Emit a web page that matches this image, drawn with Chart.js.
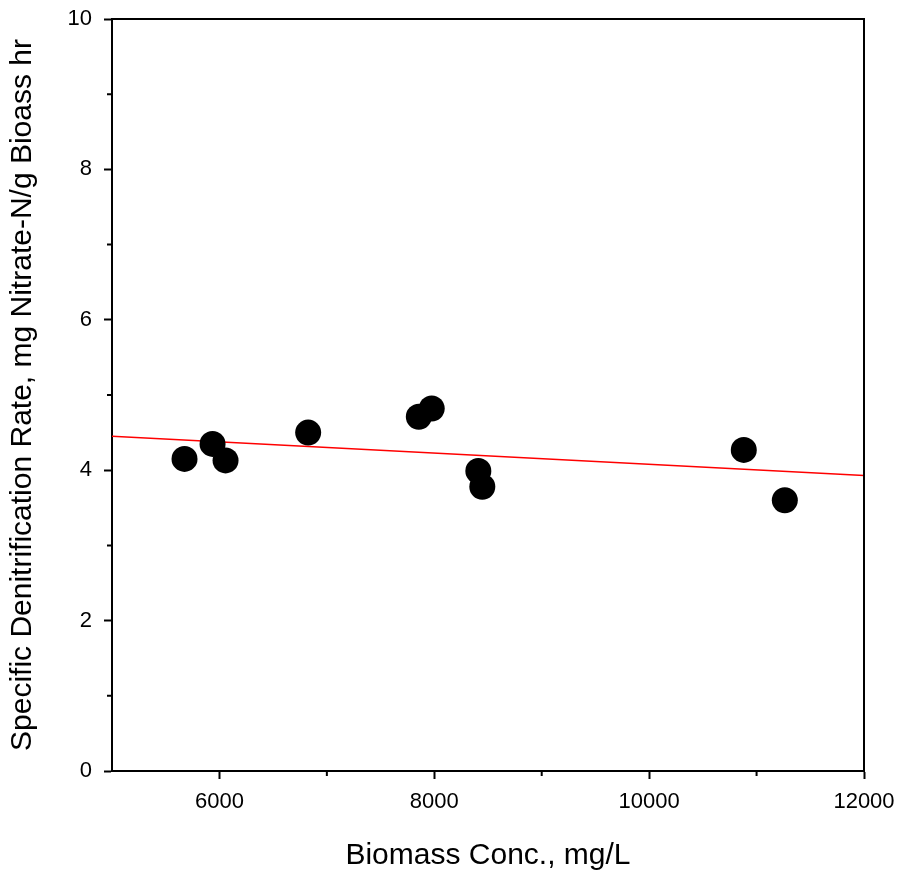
<html lang="en">
<head>
  <meta charset="utf-8" />
  <title>Specific Denitrification Rate vs Biomass</title>
  <style>
    body { margin: 0; background: #ffffff; }
    #chart { display: block; }
  </style>
</head>
<body>
  <canvas id="chart" width="899" height="877"></canvas>
  <script src="https://cdn.jsdelivr.net/npm/chart.js@4/dist/chart.umd.min.js"></script>
  <script>
    // Measured points (biomass mg/L, rate mg N/g biomass hr)
    const biomass = [5675, 5936, 6057, 6826, 7856, 7976, 8410, 8447, 10881, 11263];
    const rate = [4.15, 4.35, 4.13, 4.50, 4.71, 4.82, 3.99, 3.78, 4.27, 3.60];

    // Linear fit line end points
    const fitX = [5000, 12000];
    const fitY = [4.45, 3.93];

    const xTicks = [6000, 8000, 10000, 12000];
    const xMinorTicks = [7000, 9000, 11000];
    const yMinorTicks = [1, 3, 5, 7, 9];

    const font = "'Liberation Sans', Arial, sans-serif";

    // draws the top/right frame and the short minor ticks
    const framePlugin = {
      id: "frame",
      afterDraw(chart) {
        const ctx = chart.ctx;
        const a = chart.chartArea;
        const xs = chart.scales.x;
        const ys = chart.scales.y;
        ctx.save();
        ctx.strokeStyle = "#000";
        ctx.lineWidth = 2;
        ctx.beginPath();
        ctx.moveTo(a.left, a.top);
        ctx.lineTo(a.right, a.top);
        ctx.lineTo(a.right, a.bottom);
        ctx.stroke();
        ctx.beginPath();
        xMinorTicks.forEach(v => {
          const px = xs.getPixelForValue(v);
          ctx.moveTo(px, a.bottom);
          ctx.lineTo(px, a.bottom + 5);
        });
        yMinorTicks.forEach(v => {
          const py = ys.getPixelForValue(v);
          ctx.moveTo(a.left, py);
          ctx.lineTo(a.left - 5, py);
        });
        ctx.stroke();
        ctx.restore();
      }
    };

    // keep label overflow from moving the plot box
    const noPad = s => {
      s.paddingLeft = 0;
      s.paddingRight = 0;
      s.paddingTop = 0;
      s.paddingBottom = 0;
    };

    new Chart(document.getElementById("chart"), {
      type: "scatter",
      plugins: [framePlugin],
      data: {
        datasets: [
          {
            data: biomass.map((x, i) => ({ x: x, y: rate[i] })),
            backgroundColor: "#000",
            borderWidth: 0,
            pointRadius: 13,
            pointHoverRadius: 13
          },
          {
            type: "line",
            data: fitX.map((x, i) => ({ x: x, y: fitY[i] })),
            borderColor: "#ff0000",
            borderWidth: 1.5,
            pointRadius: 0,
            fill: false
          }
        ]
      },
      options: {
        responsive: false,
        animation: false,
        layout: { padding: { top: 19, right: 35, left: 0, bottom: 0 } },
        plugins: {
          legend: { display: false },
          tooltip: { enabled: false }
        },
        scales: {
          x: {
            type: "linear",
            min: 5000,
            max: 12000,
            afterFit: s => { s.height = 106; noPad(s); },
            afterBuildTicks: s => { s.ticks = xTicks.map(v => ({ value: v })); },
            ticks: {
              color: "#000",
              padding: 10,
              font: { family: font, size: 22 },
              callback: v => String(v)
            },
            grid: {
              drawOnChartArea: false,
              drawTicks: true,
              tickLength: 8,
              tickWidth: 2,
              tickColor: "#000"
            },
            border: { display: true, color: "#000", width: 2 },
            title: {
              display: true,
              text: "Biomass Conc., mg/L",
              color: "#000",
              font: { family: font, size: 30 },
              padding: { top: 0, bottom: 3 }
            }
          },
          y: {
            min: 0,
            max: 10,
            afterFit: s => { s.width = 112; noPad(s); },
            ticks: {
              stepSize: 2,
              color: "#000",
              padding: 12,
              font: { family: font, size: 22 },
              callback: v => String(v)
            },
            grid: {
              drawOnChartArea: false,
              drawTicks: true,
              tickLength: 8,
              tickWidth: 2,
              tickColor: "#000"
            },
            border: { display: true, color: "#000", width: 2 },
            title: {
              display: true,
              text: "Specific Denitrification Rate, mg Nitrate-N/g Bioass hr",
              color: "#000",
              font: { family: font, size: 30 },
              padding: { top: 5, bottom: 0 }
            }
          }
        }
      }
    });
  </script>
</body>
</html>
